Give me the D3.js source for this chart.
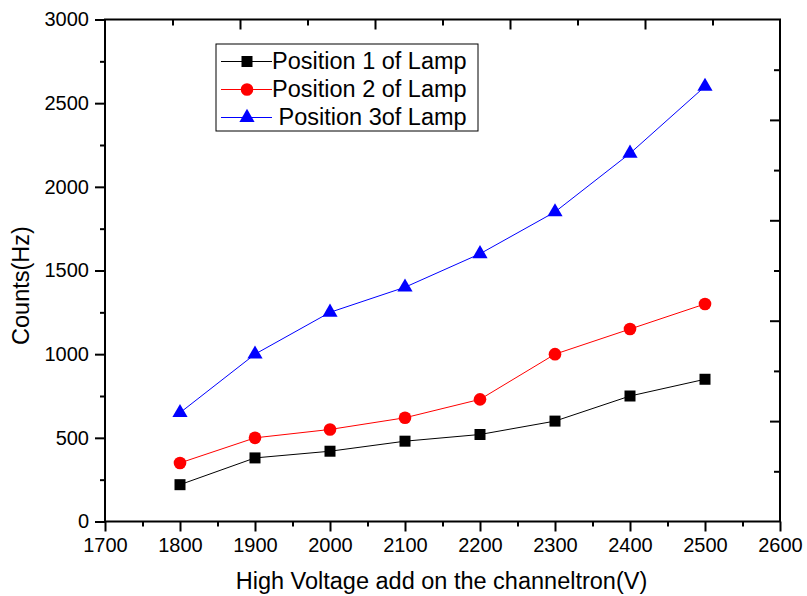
<!DOCTYPE html>
<html>
<head>
<meta charset="utf-8">
<script src="https://cdn.jsdelivr.net/npm/d3@7"></script>
<style>
  html, body { margin: 0; padding: 0; background: #fff; }
  svg { display: block; font-family: "Liberation Sans", Arial, sans-serif; }
</style>
</head>
<body>
<svg id="chart" width="807" height="596"></svg>
<script>
// ---- data ----
const voltages = [1800, 1900, 2000, 2100, 2200, 2300, 2400, 2500];
const position1 = [220, 380, 420, 480, 520, 600, 750, 850];
const position2 = [350, 500, 550, 620, 730, 1000, 1150, 1300];
const position3 = [650, 1000, 1250, 1400, 1600, 1850, 2200, 2600];
const seriesNames = ["Position 1 of Lamp", "Position 2 of Lamp", " Position 3of Lamp"];
const xTicks = [1700, 1800, 1900, 2000, 2100, 2200, 2300, 2400, 2500, 2600];
const yTicks = [0, 500, 1000, 1500, 2000, 2500, 3000];
const xLabel = "High Voltage add on the channeltron(V)";
const yLabel = "Counts(Hz)";

const svg = d3.select("#chart");
const m = { left: 105, right: 780, top: 19.5, bottom: 521.5 };

const x = d3.scaleLinear().domain([1700, 2600]).range([m.left, m.right]);
const y = d3.scaleLinear().domain([0, 3000]).range([m.bottom, m.top]);
// secondary (top/right) axes, as drawn by the original software: 10 divisions
const x2 = d3.scaleLinear().domain([0, 10]).range([m.left, m.right]);
const y2 = d3.scaleLinear().domain([0, 10]).range([m.bottom, m.top]);

const series = [
  { name: seriesNames[0], values: position1, color: "#000000", shape: "square" },
  { name: seriesNames[1], values: position2, color: "#ff0000", shape: "circle" },
  { name: seriesNames[2], values: position3, color: "#0000ff", shape: "triangle" }
];

function styleAxis(g) {
  g.select(".domain").remove();
  g.selectAll(".tick line").attr("stroke", "#000").attr("stroke-width", 2);
  g.selectAll(".tick text").attr("fill", "#000").attr("font-size", 20)
    .attr("font-family", "Liberation Sans, Arial, sans-serif");
}

// minor ticks
const xMinor = d3.range(1750, 2600, 100);
const yMinor = d3.range(250, 3000, 500);
svg.append("g").attr("transform", `translate(0,${m.bottom})`)
  .call(d3.axisBottom(x).tickValues(xMinor).tickSize(5).tickFormat(""))
  .call(styleAxis);
svg.append("g").attr("transform", `translate(${m.left},0)`)
  .call(d3.axisLeft(y).tickValues(yMinor).tickSize(5).tickFormat(""))
  .call(styleAxis);
// major ticks
svg.append("g").attr("transform", `translate(0,${m.bottom})`)
  .call(d3.axisBottom(x).tickValues(xTicks).tickSize(10).tickPadding(6).tickFormat(d3.format("d")))
  .call(styleAxis);
svg.append("g").attr("transform", `translate(${m.left},0)`)
  .call(d3.axisLeft(y).tickValues(yTicks).tickSize(10).tickPadding(6).tickFormat(d3.format("d")))
  .call(styleAxis);

// top and right axes (inward ticks, no labels)
const topMinor = [1, 3, 5, 7, 9], topMajor = [2, 4, 6, 8];
svg.append("g").attr("transform", `translate(0,${m.top})`)
  .call(d3.axisTop(x2).tickValues(topMinor).tickSize(-6).tickFormat("")).call(styleAxis);
svg.append("g").attr("transform", `translate(0,${m.top})`)
  .call(d3.axisTop(x2).tickValues(topMajor).tickSize(-10).tickFormat("")).call(styleAxis);
svg.append("g").attr("transform", `translate(${m.right},0)`)
  .call(d3.axisRight(y2).tickValues(topMinor).tickSize(-6).tickFormat("")).call(styleAxis);
svg.append("g").attr("transform", `translate(${m.right},0)`)
  .call(d3.axisRight(y2).tickValues(topMajor).tickSize(-10).tickFormat("")).call(styleAxis);

// frame
svg.append("rect")
  .attr("x", m.left).attr("y", m.top)
  .attr("width", m.right - m.left).attr("height", m.bottom - m.top)
  .attr("fill", "none").attr("stroke", "#000").attr("stroke-width", 2);

// marker drawing
const symbols = {
  square: d3.symbol().type(d3.symbolSquare).size(121),
  circle: d3.symbol().type(d3.symbolCircle).size(125),
  triangle: d3.symbol().type(d3.symbolTriangle).size(100)
};

const line = d3.line().x((d, i) => x(voltages[i])).y(d => y(d));

series.forEach(s => {
  svg.append("path").datum(s.values)
    .attr("d", line).attr("fill", "none")
    .attr("stroke", s.color).attr("stroke-width", 1);
  svg.append("g").selectAll("path").data(s.values).join("path")
    .attr("d", symbols[s.shape])
    .attr("transform", (d, i) => `translate(${x(voltages[i])},${y(d)})`)
    .attr("fill", s.color);
});

// axis titles
svg.append("text")
  .attr("x", (m.left + m.right) / 2 - 1).attr("y", 589)
  .attr("text-anchor", "middle").attr("font-size", 23.5).attr("fill", "#000")
  .text(xLabel);
svg.append("text")
  .attr("transform", `translate(29,${(m.top + m.bottom) / 2 + 15}) rotate(-90)`)
  .attr("text-anchor", "middle").attr("font-size", 23.5).attr("fill", "#000")
  .text(yLabel);

// legend
const legend = svg.append("g");
legend.append("rect")
  .attr("x", 216).attr("y", 44).attr("width", 262).attr("height", 87)
  .attr("fill", "#fff").attr("stroke", "#000").attr("stroke-width", 1);
const rowY = [61.5, 89.5, 117.5];
series.forEach((s, i) => {
  const ry = rowY[i];
  legend.append("line")
    .attr("x1", 221).attr("x2", 272).attr("y1", ry).attr("y2", ry)
    .attr("stroke", s.color).attr("stroke-width", 1);
  legend.append("path")
    .attr("d", symbols[s.shape])
    .attr("transform", `translate(247,${ry})`)
    .attr("fill", s.color);
  legend.append("text")
    .attr("x", 272).attr("y", ry + 7.5)
    .attr("font-size", 23.5).attr("fill", "#000")
    .attr("xml:space", "preserve").style("white-space", "pre")
    .text(s.name);
});
</script>
</body>
</html>
